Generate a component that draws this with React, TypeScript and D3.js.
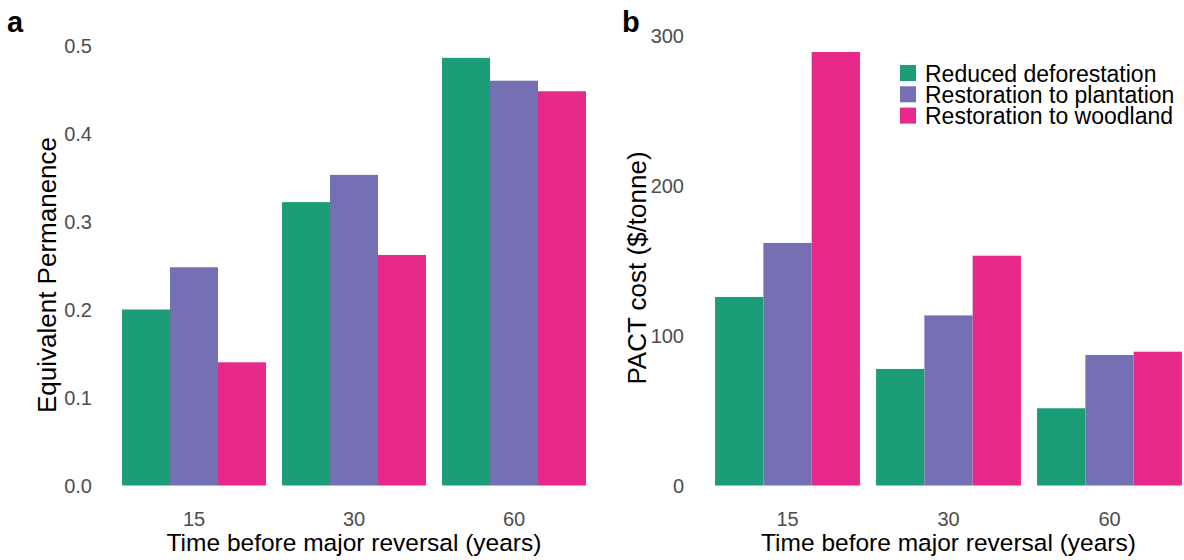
import React, { useEffect, useRef } from "react";
import * as d3 from "d3";

// categories and series
const years = ["15", "30", "60"];
const types = [
  "Reduced deforestation",
  "Restoration to plantation",
  "Restoration to woodland",
];
const colors = ["#1b9e77", "#7570b3", "#e7298a"];

// panel a: equivalent permanence
const permDeforestation = [0.2, 0.322, 0.486];
const permPlantation = [0.248, 0.353, 0.46];
const permWoodland = [0.14, 0.262, 0.448];
const permTicks = [0, 0.1, 0.2, 0.3, 0.4, 0.5];

// panel b: PACT cost ($/tonne)
const costDeforestation = [125.7, 77.7, 51.5];
const costPlantation = [161.7, 113.4, 87];
const costWoodland = [289, 153.2, 89.2];
const costTicks = [0, 100, 200, 300];

const FONT = "'Liberation Sans', Arial, sans-serif";

const App = () => {
  const svgRef = useRef<SVGSVGElement>(null);

  useEffect(() => {
    const svg = d3.select(svgRef.current);
    svg.selectAll("*").remove();

    const drawPanel = (
      series: number[][],
      xRange: [number, number],
      yDomain: [number, number],
      yRange: [number, number],
      ticks: number[],
      fmt: (d: number) => string,
      yTitle: string,
      yTitlePos: [number, number],
      tickX: number,
      letter: string,
      letterX: number,
      letterY: number
    ) => {
      const g = svg.append("g");
      const x0 = d3
        .scaleBand()
        .domain(years)
        .range(xRange)
        .paddingInner(0.1)
        .paddingOuter(0.05);
      const x1 = d3
        .scaleBand()
        .domain(types)
        .range([0, x0.bandwidth()]);
      const y = d3.scaleLinear().domain(yDomain).range(yRange);

      // bars
      years.forEach((yr, i) => {
        types.forEach((t, j) => {
          const v = series[j][i];
          g.append("rect")
            .attr("x", x0(yr)! + x1(t)!)
            .attr("y", y(v))
            .attr("width", x1.bandwidth())
            .attr("height", y(0) - y(v))
            .attr("fill", colors[j]);
        });
      });

      // y tick labels
      g.selectAll(".ytick")
        .data(ticks)
        .enter()
        .append("text")
        .attr("x", tickX)
        .attr("y", (d) => y(d))
        .attr("dy", "0.35em")
        .attr("text-anchor", "end")
        .attr("font-family", FONT)
        .attr("font-size", 20)
        .attr("fill", "#4d4d4d")
        .text(fmt);

      // x tick labels
      g.selectAll(".xtick")
        .data(years)
        .enter()
        .append("text")
        .attr("x", (d) => x0(d)! + x0.bandwidth() / 2)
        .attr("y", 526)
        .attr("text-anchor", "middle")
        .attr("font-family", FONT)
        .attr("font-size", 20)
        .attr("fill", "#4d4d4d")
        .text((d) => d);

      // x title
      g.append("text")
        .attr("x", (xRange[0] + xRange[1]) / 2)
        .attr("y", 551)
        .attr("text-anchor", "middle")
        .attr("font-family", FONT)
        .attr("font-size", 24.5)
        .attr("fill", "#000")
        .text("Time before major reversal (years)");

      // y title
      g.append("text")
        .attr(
          "transform",
          `translate(${yTitlePos[0]},${yTitlePos[1]}) rotate(-90)`
        )
        .attr("text-anchor", "middle")
        .attr("font-family", FONT)
        .attr("font-size", 26)
        .attr("fill", "#000")
        .text(yTitle);

      // panel letter
      g.append("text")
        .attr("x", letterX)
        .attr("y", letterY)
        .attr("font-family", FONT)
        .attr("font-size", 29)
        .attr("font-weight", "bold")
        .attr("fill", "#000")
        .text(letter);
    };

    drawPanel(
      [permDeforestation, permPlantation, permWoodland],
      [114, 594],
      [0, 0.5],
      [485.5, 45.5],
      permTicks,
      d3.format(".1f"),
      "Equivalent Permanence",
      [56, 275],
      92,
      "a",
      7,
      32
    );

    drawPanel(
      [costDeforestation, costPlantation, costWoodland],
      [707, 1190],
      [0, 300],
      [485.5, 35.5],
      costTicks,
      d3.format("d"),
      "PACT cost ($/tonne)",
      [646, 268],
      684,
      "b",
      622,
      32
    );

    // legend
    const legend = svg.append("g").attr("transform", "translate(900,65)");
    types.forEach((t, i) => {
      legend
        .append("rect")
        .attr("x", 0)
        .attr("y", i * 21.3)
        .attr("width", 16)
        .attr("height", 16)
        .attr("fill", colors[i]);
      legend
        .append("text")
        .attr("x", 25)
        .attr("y", i * 21.3 + 16.5)
        .attr("font-family", FONT)
        .attr("font-size", 23)
        .attr("fill", "#000")
        .text(t);
    });
  }, []);

  return (
    <div style={{ position: "absolute", left: 0, top: 0 }}>
      <svg ref={svgRef} width={1184} height={560}></svg>
    </div>
  );
};

export default App;
